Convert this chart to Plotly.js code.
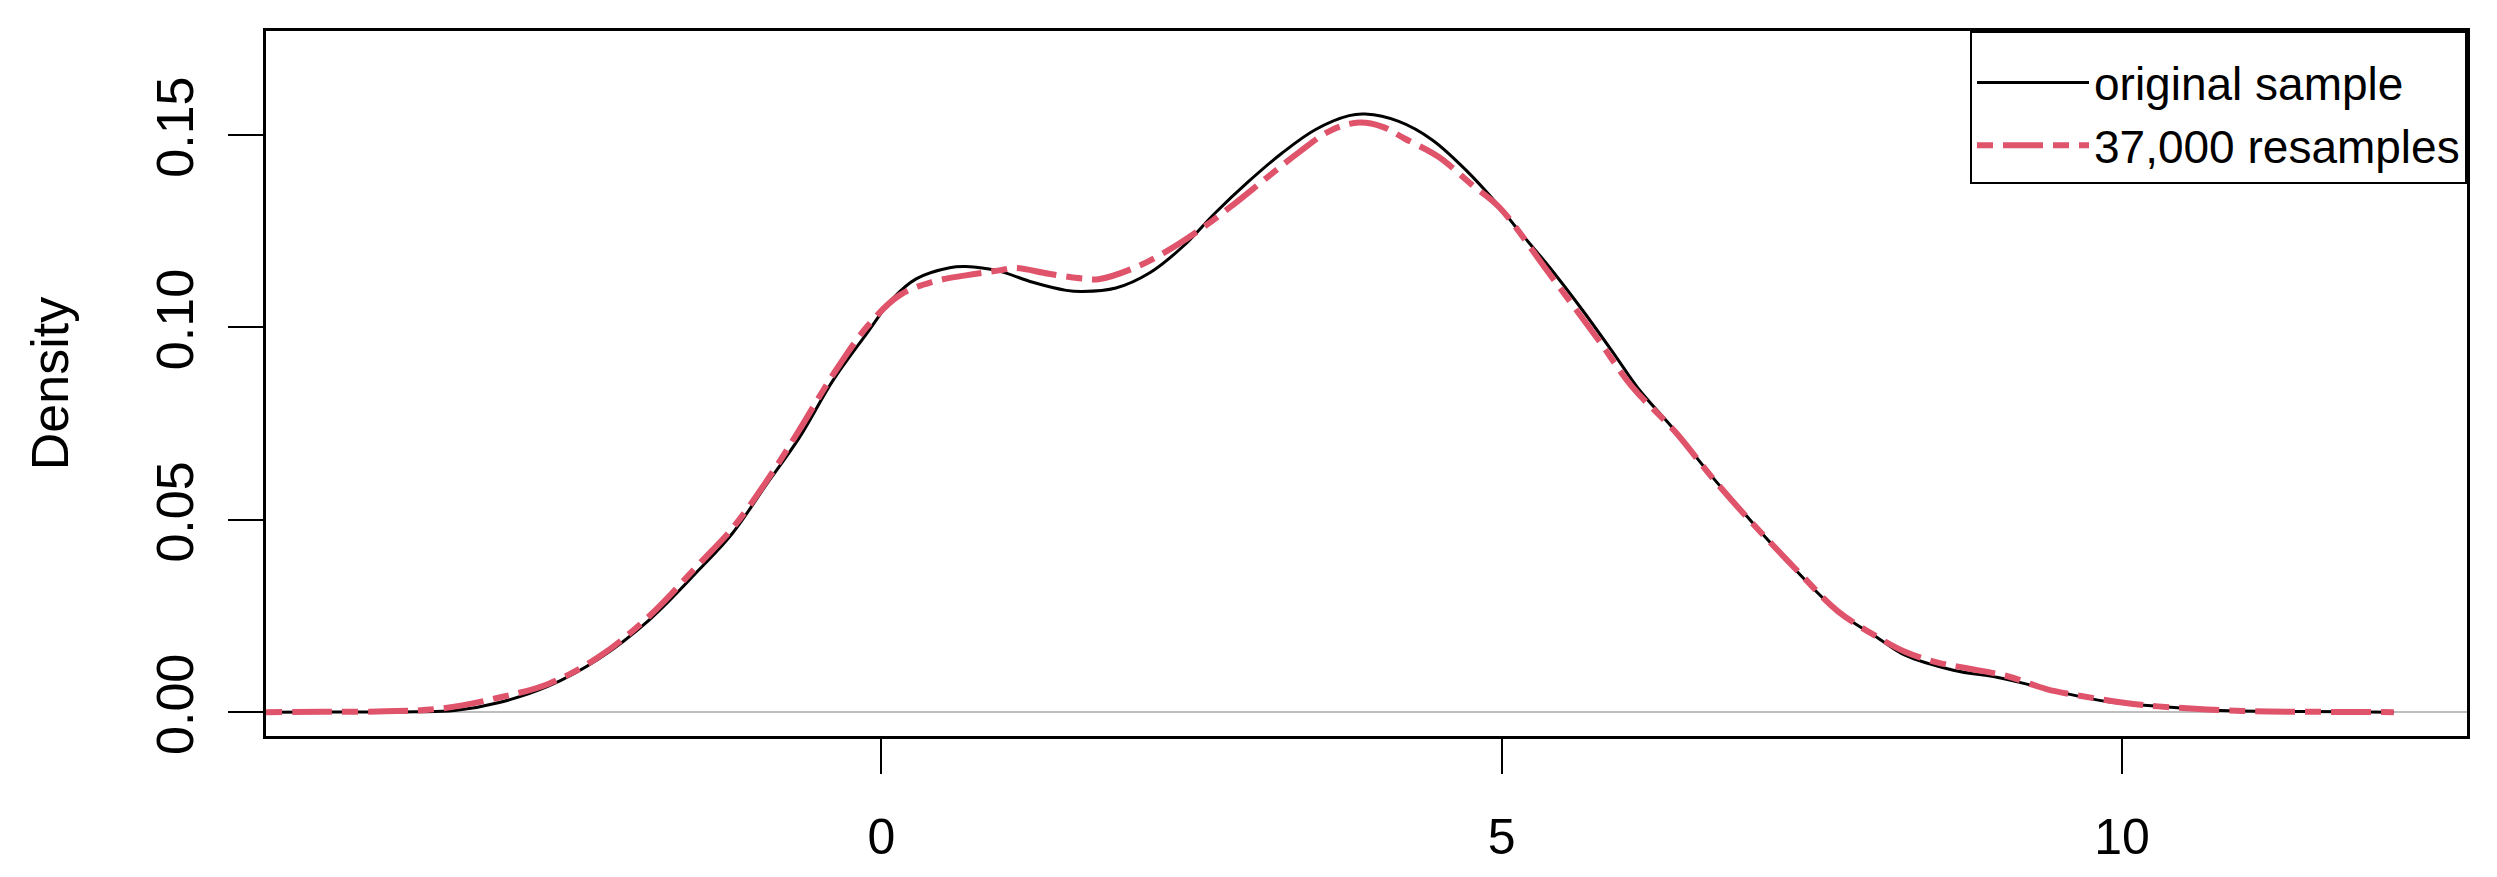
<!DOCTYPE html>
<html>
<head>
<meta charset="utf-8">
<script src="https://cdn.plot.ly/plotly-3.0.1.min.js"></script>
<style>
  html, body { margin: 0; padding: 0; background: #fff; }
  #plotArea_Density { width: 2497px; height: 877px; }
</style>
</head>
<body>
<div id="plotArea_Density"></div>
<script>
// Kernel density of the original sample
var origX = [-4.96, -4.5, -4.0, -3.75, -3.44, -3.08, -2.68, -2.28, -1.87, -1.47, -1.20, -0.93,
    -0.66, -0.39, -0.12, 0.09, 0.28, 0.55, 0.68, 0.95, 1.22, 1.49, 1.62, 1.89, 2.16, 2.43,
    2.69, 2.96, 3.23, 3.50, 3.77, 3.90, 4.17, 4.44, 4.71, 4.98, 5.11, 5.38, 5.65, 5.92, 6.10,
    6.40, 6.70, 7.00, 7.39, 7.71, 8.04, 8.25, 8.64, 9.00, 9.27, 9.54, 9.89, 10.34, 10.75,
    11.28, 11.8, 12.19];
var origY = [0, 0.00002, 0.00005, 0.0001, 0.0004, 0.0025, 0.0068, 0.0138, 0.0240, 0.0370, 0.0465, 0.0590,
    0.0714, 0.0862, 0.0983, 0.1074, 0.1126, 0.1155, 0.1158, 0.1146, 0.1117, 0.1096, 0.1093, 0.1102, 0.1141, 0.1210,
    0.1297, 0.1379, 0.1453, 0.1514, 0.1550, 0.1554, 0.1535, 0.1487, 0.1409, 0.1314, 0.1262, 0.1158, 0.1045, 0.0924, 0.0841,
    0.0730, 0.0610, 0.0500, 0.0362, 0.0261, 0.0191, 0.0148, 0.0109, 0.0090, 0.0070, 0.0049, 0.0027, 0.0014, 0.0005,
    0.0002, 0.0001, 0];

// Density of the 37,000 resamples
var resX = [-4.96, -4.5, -4.0, -3.56, -3.08, -2.68, -2.28, -1.87, -1.47, -1.20, -0.93,
    -0.66, -0.39, -0.12, 0.145, 0.41, 0.68, 0.95, 1.08, 1.35, 1.62, 1.75, 2.02, 2.29, 2.56,
    2.83, 3.10, 3.37, 3.63, 3.85, 4.04, 4.22, 4.49, 4.76, 4.98, 5.38, 5.78, 6.05, 6.40, 6.70,
    7.00, 7.39, 7.71, 8.04, 8.25, 8.50, 8.75, 9.07, 9.39, 9.67, 10.0, 10.29, 10.97, 11.5, 12.19];
var resY = [0, 0.0001, 0.0002, 0.0009, 0.0038, 0.0074, 0.0143, 0.0250, 0.0385, 0.0478, 0.0598,
    0.0734, 0.0877, 0.1000, 0.1083, 0.1118, 0.1135, 0.1148, 0.1154, 0.1139, 0.1127, 0.1125, 0.1152, 0.1196, 0.1252,
    0.1317, 0.1387, 0.1456, 0.1513, 0.1532, 0.1521, 0.1490, 0.1443, 0.1370, 0.1312, 0.1141, 0.0967, 0.0846, 0.0728, 0.0608,
    0.0498, 0.0365, 0.0262, 0.0193, 0.0157, 0.0130, 0.0114, 0.0094, 0.0060, 0.0042, 0.0025, 0.0015, 0.0003, 0.0001, 0];

var xTicks = [0, 5, 10];
var yTicks = [0, 0.05, 0.10, 0.15];
var yTickText = ["0.00", "0.05", "0.10", "0.15"];

var traceOrig = {
    x: origX,
    y: origY,
    name: "original sample",
    legendgroup: "a",
    mode: "lines",
    type: "scatter",
    line: {color: "#000000", width: 3, shape: "spline"}
};

var traceRes = {
    x: resX,
    y: resY,
    name: "37,000 resamples",
    legendgroup: "b",
    mode: "lines",
    type: "scatter",
    line: {color: "#DF536B", width: 6, shape: "spline", dash: "16px,10px,40px,10px"}
};

var layout = {
    width: 2497,
    height: 877,
    margin: {l: 266, r: 30, t: 31, b: 141},
    paper_bgcolor: "#ffffff",
    plot_bgcolor: "#ffffff",
    font: {family: "Liberation Sans, Arial, sans-serif", color: "#000000", size: 50},
    xaxis: {
        range: [-4.96, 12.78],
        tickmode: "array",
        tickvals: xTicks,
        ticks: "outside",
        ticklen: 35,
        tickwidth: 2,
        tickcolor: "#000000",
        tickfont: {size: 50},
        ticklabelstandoff: 20,
        showgrid: false,
        zeroline: false,
        showline: true,
        mirror: true,
        linecolor: "#000000",
        linewidth: 3
    },
    yaxis: {
        range: [-0.0062, 0.177],
        tickmode: "array",
        tickvals: yTicks,
        ticktext: yTickText,
        tickangle: -90,
        ticks: "outside",
        ticklen: 35,
        tickwidth: 2,
        tickcolor: "#000000",
        tickfont: {size: 52},
        ticklabelstandoff: 14,
        showgrid: false,
        zeroline: true,
        zerolinecolor: "#BEBEBE",
        zerolinewidth: 2,
        showline: true,
        mirror: true,
        linecolor: "#000000",
        linewidth: 3,
        title: {text: "Density", font: {size: 52}, standoff: 62}
    },
    showlegend: true,
    legend: {
        x: 1,
        xanchor: "right",
        y: 1,
        yanchor: "top",
        bgcolor: "#ffffff",
        bordercolor: "#000000",
        borderwidth: 2,
        itemwidth: 112,
        tracegroupgap: 0,
        title: {text: " ", font: {size: 10}},
        font: {size: 46}
    }
};

Plotly.newPlot("plotArea_Density", [traceOrig, traceRes], layout, {displayModeBar: false, staticPlot: true});
</script>
</body>
</html>
